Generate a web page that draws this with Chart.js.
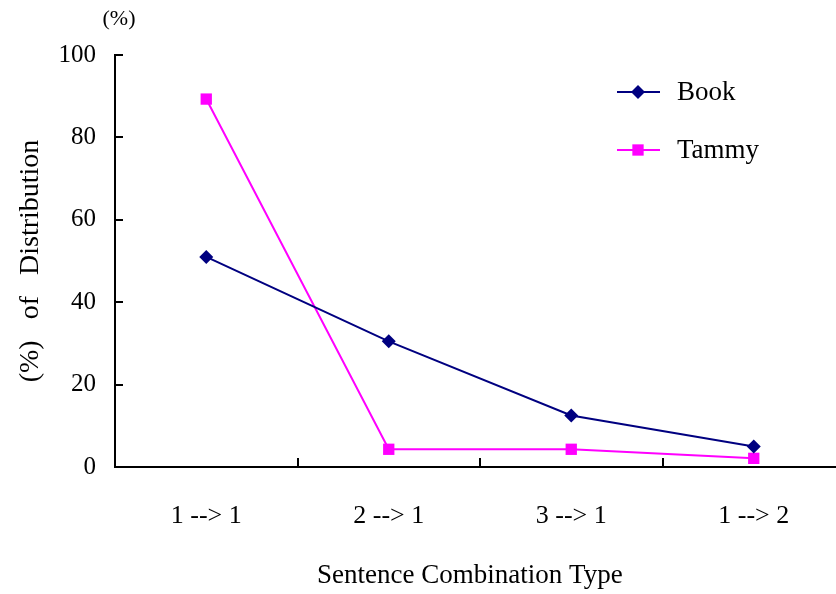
<!DOCTYPE html>
<html>
<head>
<meta charset="utf-8">
<script src="https://cdn.jsdelivr.net/npm/chart.js@4/dist/chart.umd.min.js"></script>
<style>
  html, body { margin: 0; padding: 0; background: #fff; overflow: hidden; }
  #wrap { width: 853px; height: 594px; }
</style>
</head>
<body>
<div id="wrap"><canvas id="chart"></canvas></div>
<script>
const categories = ["1 --> 1", "2 --> 1", "3 --> 1", "1 --> 2"];
const bookValues = [51, 30.5, 12.5, 5];
const tammyValues = [89.3, 4.3, 4.3, 2.1];
const yTicks = [0, 20, 40, 60, 80, 100];

const serif = "'Liberation Serif', 'Times New Roman', serif";

// inner tick marks, "(%)" unit and the line+marker legend
const extras = {
  id: "extras",
  afterDraw(chart) {
    const ctx = chart.ctx;
    const x = chart.scales.x;
    const y = chart.scales.y;
    const area = chart.chartArea;
    ctx.save();
    ctx.strokeStyle = "#000";
    ctx.lineWidth = 2;
    ctx.beginPath();
    yTicks.forEach((v) => {
      const py = Math.round(y.getPixelForValue(v));
      ctx.moveTo(area.left, py);
      ctx.lineTo(area.left + 8, py);
    });
    for (let i = 0; i < categories.length - 1; i++) {
      const px = Math.round((x.getPixelForValue(i) + x.getPixelForValue(i + 1)) / 2);
      ctx.moveTo(px, area.bottom);
      ctx.lineTo(px, area.bottom - 9);
    }
    ctx.stroke();

    ctx.fillStyle = "#000";
    ctx.font = "22px " + serif;
    ctx.textAlign = "center";
    ctx.textBaseline = "middle";
    ctx.fillText("(%)", 119, 19);

    chart.data.datasets.forEach((ds, i) => {
      const ly = 92 + i * 58;
      ctx.strokeStyle = ds.borderColor;
      ctx.lineWidth = 2;
      ctx.beginPath();
      ctx.moveTo(617, ly);
      ctx.lineTo(660, ly);
      ctx.stroke();
      ctx.fillStyle = ds.pointBackgroundColor;
      Chart.helpers.drawPoint(ctx, { pointStyle: ds.pointStyle, radius: ds.pointRadius, borderWidth: 0 }, 638, ly);
      ctx.fillStyle = "#000";
      ctx.font = "27px " + serif;
      ctx.textAlign = "left";
      ctx.fillText(ds.label, 677, ly + 1);
    });
    ctx.restore();
  },
};

new Chart(document.getElementById("chart"), {
  type: "line",
  data: {
    labels: categories,
    datasets: [
      {
        label: "Book",
        data: bookValues,
        borderColor: "#000080",
        backgroundColor: "#000080",
        pointBackgroundColor: "#000080",
        pointBorderWidth: 0,
        pointStyle: "rectRot",
        pointRadius: 7,
        borderWidth: 2,
        tension: 0,
      },
      {
        label: "Tammy",
        data: tammyValues,
        borderColor: "#ff00ff",
        backgroundColor: "#ff00ff",
        pointBackgroundColor: "#ff00ff",
        pointBorderWidth: 0,
        pointStyle: "rect",
        pointRadius: 8,
        borderWidth: 2,
        tension: 0,
      },
    ],
  },
  options: {
    responsive: true,
    maintainAspectRatio: false,
    animation: false,
    events: [],
    layout: { padding: { top: 55, right: 0, bottom: 0, left: 0 } },
    plugins: {
      legend: { display: false },
      tooltip: { enabled: false },
    },
    scales: {
      x: {
        offset: true,
        afterFit: (s) => { s.height = 127; },
        grid: { display: false, offset: true, drawTicks: false },
        border: { display: true, color: "#000", width: 2 },
        ticks: { color: "#000", padding: 34, font: { family: serif, size: 26 } },
        title: {
          display: true,
          text: "Sentence Combination Type   ",
          color: "#000",
          padding: { bottom: 2 },
          font: { family: serif, size: 27 },
        },
      },
      y: {
        min: 0,
        max: 100,
        afterFit: (s) => { s.width = 115; },
        afterBuildTicks: (s) => { s.ticks = yTicks.map((v) => ({ value: v })); },
        grid: { display: false, drawTicks: false },
        border: { display: true, color: "#000", width: 2 },
        ticks: { color: "#000", padding: 19, font: { family: serif, size: 25 } },
        title: {
          display: true,
          text: "(%)   of   Distribution",
          color: "#000",
          padding: { top: 14 },
          font: { family: serif, size: 28 },
        },
      },
    },
  },
  plugins: [extras],
});
</script>
</body>
</html>
